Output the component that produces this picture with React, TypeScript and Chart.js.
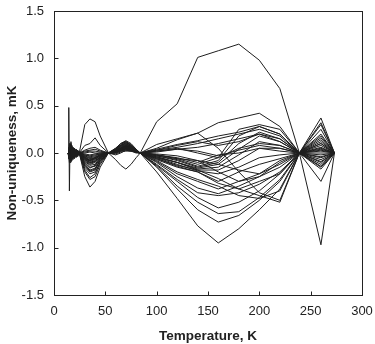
import React, { useEffect, useRef } from "react";
import { Chart, registerables } from "chart.js";

Chart.register(...registerables);

const temps = [13.8, 14.4, 15, 15.6, 16.5, 17.5, 18.5, 20, 21.5, 23, 24.6, 30, 35, 40, 45, 53, 60, 65, 70, 75, 80, 84, 100, 120, 140, 160, 180, 200, 220, 239, 260, 273.16];

const s01 = [0, 0.02, -0.03, 0.04, -0.02, 0.03, -0.01, 0.02, -0.01, 0.01, 0, -0.05, -0.08, -0.06, -0.03, 0, 0.02, 0.05, 0.07, 0.05, 0.02, 0, 0.33, 0.52, 1.01, 1.08, 1.15, 0.98, 0.68, 0, -0.97, 0];
const s02 = [0, 0.48, -0.40, 0.08, -0.05, 0.06, -0.03, 0.04, -0.02, 0.02, 0, 0.30, 0.36, 0.33, 0.18, 0, -0.07, -0.13, -0.17, -0.12, -0.05, 0, 0.09, 0.15, 0.21, 0.32, 0.37, 0.42, 0.28, 0, 0.37, 0];
const s03 = [0, -0.05, 0.1, -0.08, 0.12, -0.06, 0.05, -0.04, 0.03, -0.02, 0, -0.25, -0.36, -0.3, -0.15, 0, 0.05, 0.1, 0.13, 0.1, 0.04, 0, -0.2, -0.48, -0.77, -0.95, -0.8, -0.6, -0.38, 0, 0.32, 0];
const s04 = [0, 0.03, -0.08, 0.1, -0.09, 0.07, -0.05, 0.03, -0.03, 0.02, 0, -0.2, -0.28, -0.25, -0.12, 0, 0.05, 0.1, 0.12, 0.09, 0.04, 0, -0.15, -0.38, -0.6, -0.73, -0.66, -0.5, -0.3, 0, 0.3, 0];
const s05 = [0, -0.02, 0.06, -0.07, 0.09, -0.05, 0.04, -0.03, 0.02, -0.02, 0, -0.18, -0.26, -0.22, -0.1, 0, 0.04, 0.09, 0.12, 0.08, 0.03, 0, -0.14, -0.35, -0.52, -0.64, -0.62, -0.47, -0.28, 0, 0.25, 0];
const s06 = [0, 0.01, -0.04, 0.05, -0.07, 0.08, -0.04, 0.02, -0.02, 0.01, 0, -0.16, -0.22, -0.2, -0.1, 0, 0.04, 0.08, 0.11, 0.08, 0.03, 0, -0.13, -0.3, -0.47, -0.58, -0.52, -0.4, -0.22, 0, 0.2, 0];
const s07 = [0, -0.03, 0.05, -0.06, 0.04, -0.08, 0.05, -0.03, 0.02, -0.01, 0, -0.14, -0.2, -0.18, -0.08, 0, 0.04, 0.08, 0.1, 0.07, 0.03, 0, -0.12, -0.28, -0.42, -0.45, -0.42, -0.33, -0.2, 0, 0.18, 0];
const s08 = [0, 0.02, -0.06, 0.03, -0.05, 0.06, -0.07, 0.04, -0.02, 0.02, 0, -0.12, -0.18, -0.16, -0.07, 0, 0.03, 0.07, 0.1, 0.07, 0.03, 0, -0.1, -0.25, -0.37, -0.43, -0.35, -0.25, -0.15, 0, 0.16, 0];
const s09 = [0, -0.01, 0.04, -0.05, 0.07, -0.04, 0.06, -0.05, 0.03, -0.02, 0, -0.1, -0.15, -0.14, -0.06, 0, 0.03, 0.06, 0.09, 0.06, 0.02, 0, -0.09, -0.22, -0.3, -0.38, -0.3, -0.22, -0.12, 0, 0.14, 0];
const s10 = [0, 0.04, -0.05, 0.06, -0.03, 0.05, -0.06, 0.05, -0.04, 0.02, 0, -0.09, -0.13, -0.12, -0.05, 0, 0.03, 0.06, 0.08, 0.06, 0.02, 0, -0.08, -0.2, -0.28, -0.35, -0.45, -0.48, -0.4, 0, 0.12, 0];
const s11 = [0, -0.04, 0.03, -0.04, 0.05, -0.03, 0.03, -0.06, 0.04, -0.03, 0, -0.08, -0.12, -0.1, -0.05, 0, 0.02, 0.05, 0.08, 0.05, 0.02, 0, -0.07, -0.15, -0.2, -0.3, -0.2, -0.12, -0.06, 0, 0.1, 0];
const s12 = [0, 0.03, -0.02, 0.05, -0.04, 0.03, -0.05, 0.03, -0.05, 0.03, 0, -0.07, -0.11, -0.09, -0.04, 0, 0.02, 0.05, 0.07, 0.05, 0.02, 0, -0.06, -0.13, -0.18, -0.27, -0.38, -0.45, -0.52, 0, -0.3, 0];
const s13 = [0, -0.02, 0.05, -0.03, 0.03, -0.06, 0.04, -0.02, 0.03, -0.04, 0, 0.08, 0.1, 0.16, 0.08, 0, -0.02, 0.0, 0.03, 0.02, 0.01, 0, 0.05, 0.14, 0.21, 0.05, -0.2, -0.42, -0.5, 0, 0.08, 0];
const s14 = [0, 0.01, -0.03, 0.02, -0.06, 0.04, -0.02, 0.05, -0.03, 0.02, 0, -0.06, -0.1, -0.08, -0.04, 0, 0.02, 0.04, 0.07, 0.05, 0.02, 0, -0.05, -0.12, -0.19, -0.22, -0.15, -0.05, -0.02, 0, 0.06, 0];
const s15 = [0, -0.03, 0.02, -0.05, 0.03, -0.02, 0.06, -0.04, 0.02, -0.03, 0, -0.05, -0.09, -0.07, -0.03, 0, 0.02, 0.04, 0.06, 0.04, 0.02, 0, -0.05, -0.1, -0.18, -0.18, -0.08, 0.05, 0.05, 0, 0.05, 0];
const s16 = [0, 0.02, -0.04, 0.03, -0.02, 0.05, -0.03, 0.02, -0.04, 0.03, 0, -0.04, -0.08, -0.06, -0.03, 0, 0.02, 0.04, 0.06, 0.04, 0.01, 0, -0.04, -0.1, -0.17, -0.15, -0.02, 0.12, 0.08, 0, 0.04, 0];
const s17 = [0, -0.01, 0.03, -0.02, 0.04, -0.03, 0.02, -0.03, 0.04, -0.02, 0, -0.04, -0.07, -0.05, -0.02, 0, 0.01, 0.03, 0.05, 0.04, 0.01, 0, -0.04, -0.1, -0.16, -0.12, 0.04, 0.18, 0.12, 0, 0.03, 0];
const s18 = [0, 0.03, -0.01, 0.04, -0.03, 0.02, -0.04, 0.03, -0.02, 0.01, 0, -0.03, -0.06, -0.05, -0.02, 0, 0.01, 0.03, 0.05, 0.03, 0.01, 0, -0.03, -0.08, -0.15, -0.1, 0.1, 0.22, 0.15, 0, 0.02, 0];
const s19 = [0, -0.02, 0.01, -0.03, 0.02, -0.04, 0.03, -0.01, 0.02, -0.02, 0, -0.03, -0.05, -0.04, -0.02, 0, 0.01, 0.03, 0.04, 0.03, 0.01, 0, -0.03, -0.07, -0.14, -0.08, 0.18, 0.28, 0.2, 0, -0.02, 0];
const s20 = [0, 0.01, -0.02, 0.01, -0.03, 0.02, -0.02, 0.03, -0.01, 0.02, 0, -0.02, -0.04, -0.03, -0.01, 0, 0.01, 0.02, 0.04, 0.03, 0.01, 0, -0.02, -0.06, -0.12, -0.05, 0.25, 0.3, 0.25, 0, -0.04, 0];
const s21 = [0, -0.01, 0.02, -0.01, 0.01, -0.02, 0.01, -0.02, 0.01, -0.01, 0, -0.02, -0.03, -0.02, -0.01, 0, 0.0, 0.02, 0.03, 0.02, 0.01, 0, -0.02, -0.05, -0.1, -0.02, 0.0, 0.05, 0.02, 0, -0.05, 0];
const s22 = [0, 0.02, -0.01, 0.02, -0.01, 0.01, -0.01, 0.01, -0.02, 0.01, 0, 0.02, 0.03, 0.04, 0.02, 0, -0.01, 0.01, 0.02, 0.02, 0.0, 0, 0.02, 0.04, 0.06, 0.1, 0.15, 0.2, 0.12, 0, -0.07, 0];
const s23 = [0, -0.02, 0.03, -0.02, 0.02, -0.01, 0.02, -0.01, 0.01, -0.01, 0, 0.03, 0.05, 0.06, 0.03, 0, 0.0, 0.02, 0.04, 0.03, 0.01, 0, 0.03, 0.06, 0.1, 0.15, 0.2, 0.25, 0.18, 0, -0.09, 0];
const s24 = [0, 0.03, -0.03, 0.03, -0.02, 0.02, -0.02, 0.01, -0.01, 0.01, 0, 0.01, 0.02, 0.02, 0.01, 0, 0.01, 0.03, 0.05, 0.04, 0.02, 0, 0.04, 0.09, 0.13, 0.18, 0.22, 0.28, 0.2, 0, -0.1, 0];
const s25 = [0, -0.03, 0.04, -0.04, 0.02, -0.03, 0.01, -0.01, 0.02, -0.01, 0, -0.01, -0.02, -0.01, 0.0, 0, 0.01, 0.04, 0.06, 0.05, 0.02, 0, 0.03, 0.08, 0.12, 0.08, 0.12, 0.2, 0.15, 0, -0.12, 0];
const s26 = [0, 0.01, -0.05, 0.02, -0.04, 0.01, -0.03, 0.02, -0.01, 0.01, 0, -0.06, -0.08, -0.05, -0.02, 0, 0.02, 0.05, 0.08, 0.06, 0.02, 0, 0.02, 0.05, 0.0, -0.05, 0.05, 0.1, 0.08, 0, -0.14, 0];
const s27 = [0, -0.04, 0.06, -0.03, 0.06, -0.05, 0.02, -0.02, 0.01, -0.02, 0, -0.11, -0.16, -0.13, -0.06, 0, 0.03, 0.07, 0.09, 0.07, 0.03, 0, -0.01, -0.03, -0.08, -0.2, -0.3, -0.25, -0.1, 0, -0.15, 0];
const s28 = [0, 0.05, -0.07, 0.08, -0.06, 0.04, -0.04, 0.02, -0.02, 0.02, 0, -0.13, -0.19, -0.17, -0.08, 0, 0.04, 0.08, 0.11, 0.08, 0.03, 0, -0.06, -0.14, -0.2, -0.32, -0.38, -0.3, -0.22, 0, 0.1, 0];
const s29 = [0, -0.06, 0.08, -0.1, 0.07, -0.05, 0.03, -0.03, 0.02, -0.01, 0, -0.07, -0.1, -0.09, -0.04, 0, 0.02, 0.05, 0.07, 0.05, 0.02, 0, -0.02, -0.06, -0.08, -0.12, -0.18, -0.22, -0.08, 0, 0.0, 0];
const s30 = [0, 0.06, -0.1, 0.05, -0.08, 0.05, -0.02, 0.03, -0.03, 0.01, 0, 0.0, 0.01, 0.0, 0.0, 0, 0.01, 0.03, 0.05, 0.04, 0.01, 0, 0.01, 0.04, 0.02, -0.03, 0.03, 0.08, 0.05, 0, -0.17, 0];

const allSeries = [s01, s02, s03, s04, s05, s06, s07, s08, s09, s10, s11, s12, s13, s14, s15, s16, s17, s18, s19, s20, s21, s22, s23, s24, s25, s26, s27, s28, s29, s30];

const xTicks = [0, 50, 100, 150, 200, 250, 300];
const yTicks = [-1.5, -1.0, -0.5, 0.0, 0.5, 1.0, 1.5];
const xTitle = "Temperature, K";
const yTitle = "Non-uniqueness, mK";

const FONT = '"Liberation Sans", Arial, sans-serif';

const framePlugin = {
  id: "frame",
  afterDraw(chart: any) {
    const { ctx, chartArea } = chart;
    const xs = chart.scales.x;
    const ys = chart.scales.y;
    const l = Math.round(chartArea.left) + 0.5;
    const r = Math.round(chartArea.right) + 0.5;
    const t = Math.round(chartArea.top) + 0.5;
    const b = Math.round(chartArea.bottom) + 0.5;
    ctx.save();
    ctx.strokeStyle = "#222";
    ctx.lineWidth = 1;
    ctx.strokeRect(l, t, r - l, b - t);
    ctx.beginPath();
    for (const v of xTicks) {
      const px = Math.round(xs.getPixelForValue(v)) + 0.5;
      ctx.moveTo(px, b);
      ctx.lineTo(px, b - 4);
    }
    for (const v of yTicks) {
      const py = Math.round(ys.getPixelForValue(v)) + 0.5;
      ctx.moveTo(l, py);
      ctx.lineTo(l + 4, py);
    }
    ctx.stroke();
    ctx.fillStyle = "#222";
    ctx.font = "bold 13.5px " + FONT;
    ctx.textAlign = "center";
    ctx.textBaseline = "middle";
    ctx.fillText(xTitle, (chartArea.left + chartArea.right) / 2, 336);
    ctx.translate(12, (chartArea.top + chartArea.bottom) / 2);
    ctx.rotate(-Math.PI / 2);
    ctx.fillText(yTitle, 0, 0);
    ctx.restore();
  },
};

export default function App() {
  const ref = useRef<HTMLCanvasElement>(null);
  useEffect(() => {
    document.body.style.margin = "0";
    const canvas = ref.current;
    if (!canvas) return;
    const datasets = allSeries.map((s, i) => ({
      label: "run " + (i + 1),
      data: temps.map((t, j) => ({ x: t, y: s[j] })),
      borderColor: "#1e1e1e",
      borderWidth: 1,
      pointRadius: 0,
      fill: false,
      tension: 0,
    }));
    const chart = new Chart(canvas, {
      type: "line",
      data: { datasets },
      plugins: [framePlugin],
      options: {
        animation: false,
        responsive: false,
        layout: { padding: { top: 11, right: 13, left: 0, bottom: 0 } },
        plugins: { legend: { display: false }, tooltip: { enabled: false } },
        scales: {
          x: {
            type: "linear",
            min: 0,
            max: 300,
            afterBuildTicks: (s: any) => {
              s.ticks = xTicks.map((v) => ({ value: v }));
            },
            afterFit: (s: any) => {
              s.height = 49;
              s.paddingLeft = 0;
              s.paddingRight = 0;
            },
            grid: { display: false, drawTicks: false },
            border: { display: false },
            ticks: {
              color: "#222",
              font: { family: FONT, size: 13 },
              padding: 9,
              maxRotation: 0,
              callback: (v: any) => String(v),
            },
          },
          y: {
            type: "linear",
            min: -1.5,
            max: 1.5,
            afterBuildTicks: (s: any) => {
              s.ticks = yTicks.map((v) => ({ value: v }));
            },
            afterFit: (s: any) => {
              s.width = 54;
              s.paddingTop = 0;
              s.paddingBottom = 0;
            },
            grid: { display: false, drawTicks: false },
            border: { display: false },
            ticks: {
              color: "#222",
              font: { family: FONT, size: 13 },
              padding: 10,
              callback: (v: any) => Number(v).toFixed(1),
            },
          },
        },
      },
    });
    return () => chart.destroy();
  }, []);
  return (
    <div style={{ width: 375, height: 344 }}>
      <canvas ref={ref} width={375} height={344} style={{ display: "block", width: 375, height: 344 }} />
    </div>
  );
}
